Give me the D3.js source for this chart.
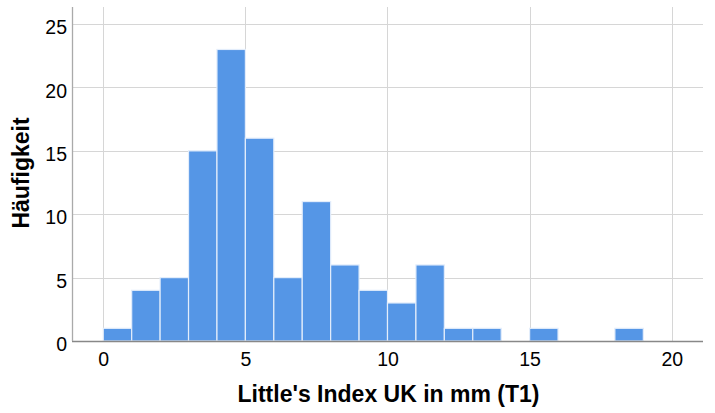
<!DOCTYPE html>
<html>
<head>
<meta charset="utf-8">
<script src="https://cdn.jsdelivr.net/npm/d3@7"></script>
<style>
  html, body { margin: 0; padding: 0; background: #fff; }
  svg { display: block; }
  text { font-family: "Liberation Sans", Arial, sans-serif; fill: #000; }
</style>
</head>
<body>
<svg id="chart" width="715" height="413"></svg>
<script>
// Histogram bins (width 1 mm) and their frequencies
const binStarts = [0, 1, 2, 3, 4, 5, 6, 7, 8, 9, 10, 11, 12, 13, 14, 15, 16, 17, 18];
const binWidth = 1;
const counts = [1, 4, 5, 15, 23, 16, 5, 11, 6, 4, 3, 6, 1, 1, 0, 1, 0, 0, 1];
const xTicks = [0, 5, 10, 15, 20];
const yTicks = [0, 5, 10, 15, 20, 25];
const xTitle = "Little's Index UK in mm (T1)";
const yTitle = "Häufigkeit";

const svg = d3.select("#chart");
const plotLeft = 72, plotRight = 703, plotTop = 7, plotBottom = 341;

const x = d3.scaleLinear().domain([-1.1, 21.1]).range([plotLeft, plotRight]);
const y = d3.scaleLinear().domain([0, 26.35]).range([plotBottom, plotTop]);

// grid
const grid = svg.append("g");
grid.selectAll("line.h").data(yTicks.filter(d => d > 0)).join("line")
  .attr("x1", plotLeft).attr("x2", plotRight)
  .attr("y1", d => Math.round(y(d)) + 0.5).attr("y2", d => Math.round(y(d)) + 0.5)
  .attr("stroke", "#d6d6d6").attr("stroke-width", 1);
grid.selectAll("line.v").data(xTicks).join("line")
  .attr("y1", plotTop).attr("y2", plotBottom)
  .attr("x1", d => Math.round(x(d)) + 0.5).attr("x2", d => Math.round(x(d)) + 0.5)
  .attr("stroke", "#d6d6d6").attr("stroke-width", 1);

// bars
const bins = binStarts.map((s, i) => ({ x0: s, x1: s + binWidth, n: counts[i] })).filter(d => d.n > 0);
svg.append("g").selectAll("rect").data(bins).join("rect")
  .attr("x", d => x(d.x0))
  .attr("width", d => x(d.x1) - x(d.x0))
  .attr("y", d => y(d.n))
  .attr("height", d => y(0) - y(d.n))
  .attr("fill", "#5596e6")
  .attr("stroke", "#e3edfb")
  .attr("stroke-width", 1.2);

// axes
const xAxis = d3.axisBottom(x).tickValues(xTicks).tickSize(0).tickPadding(11);
const yAxis = d3.axisLeft(y).tickValues(yTicks).tickSize(0).tickPadding(5);

const gx = svg.append("g").attr("transform", `translate(0,${plotBottom})`).call(xAxis);
gx.select(".domain").attr("d", `M${plotLeft},0.5H${plotRight}`).attr("stroke", "#888").attr("stroke-width", 1.3);
gx.selectAll("text").attr("font-size", 19.5).attr("font-family", "Liberation Sans, Arial, sans-serif").attr("fill", "#000");

const gy = svg.append("g").attr("transform", `translate(${plotLeft},0)`).call(yAxis);
gy.select(".domain").attr("d", `M0.5,${plotTop}V${plotBottom}`).attr("stroke", "#aaa").attr("stroke-width", 1.3);
gy.selectAll("text").attr("font-size", 19.5).attr("font-family", "Liberation Sans, Arial, sans-serif").attr("fill", "#000")
  .attr("dy", "0.5em");

// titles
svg.append("text")
  .attr("x", 388.5).attr("y", 401.5)
  .attr("text-anchor", "middle")
  .attr("font-size", 23).attr("font-weight", "bold")
  .text(xTitle);

svg.append("text")
  .attr("transform", "translate(29,173) rotate(-90)")
  .attr("text-anchor", "middle")
  .attr("font-size", 23).attr("font-weight", "bold")
  .text(yTitle);
</script>
</body>
</html>
